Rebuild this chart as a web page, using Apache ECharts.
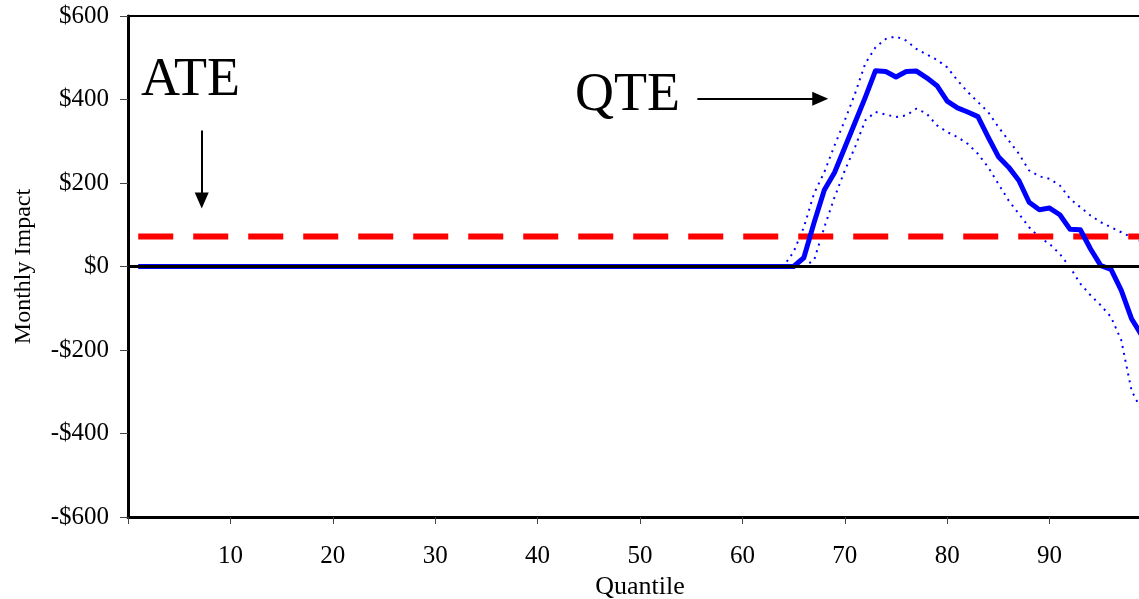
<!DOCTYPE html>
<html>
<head>
<meta charset="utf-8">
<script src="https://cdn.jsdelivr.net/npm/echarts@6/dist/echarts.min.js"></script>
<style>
  html, body { margin: 0; padding: 0; background: #fff; overflow: hidden; }
  #chart { width: 1139px; height: 599px; }
</style>
</head>
<body>
<div id="chart"></div>
<script>
// quantiles 1..100
var quantiles = [];
for (var q = 1; q <= 100; q++) quantiles.push(q);

// QTE point estimate (monthly impact, $)
var qte = [
  0, 0, 0, 0, 0, 0, 0, 0, 0, 0,
  0, 0, 0, 0, 0, 0, 0, 0, 0, 0,
  0, 0, 0, 0, 0, 0, 0, 0, 0, 0,
  0, 0, 0, 0, 0, 0, 0, 0, 0, 0,
  0, 0, 0, 0, 0, 0, 0, 0, 0, 0,
  0, 0, 0, 0, 0, 0, 0, 0, 0, 0,
  0, 0, 0, 0, 0, 21, 105, 183, 225, 285,
  345, 405, 469, 467, 454, 467, 468, 452, 433, 396,
  380, 370, 359, 310, 263, 238, 206, 154, 136, 140,
  124, 89, 88, 42, 2, -7, -57, -125, -165, -230
];
// upper confidence band
var qteUpper = [
  0, 0, 0, 0, 0, 0, 0, 0, 0, 0,
  0, 0, 0, 0, 0, 0, 0, 0, 0, 0,
  0, 0, 0, 0, 0, 0, 0, 0, 0, 0,
  0, 0, 0, 0, 0, 0, 0, 0, 0, 0,
  0, 0, 0, 0, 0, 0, 0, 0, 0, 0,
  0, 0, 0, 0, 0, 0, 0, 0, 0, 0,
  0, 0, 0, 0, 35, 94, 175, 226, 290, 350,
  414, 486, 525, 545, 551, 541, 521, 508, 495, 477,
  446, 418, 394, 370, 334, 302, 270, 230, 216, 210,
  194, 162, 142, 122, 106, 94, 82, 70, 60, 50
];
// lower confidence band
var qteLower = [
  0, 0, 0, 0, 0, 0, 0, 0, 0, 0,
  0, 0, 0, 0, 0, 0, 0, 0, 0, 0,
  0, 0, 0, 0, 0, 0, 0, 0, 0, 0,
  0, 0, 0, 0, 0, 0, 0, 0, 0, 0,
  0, 0, 0, 0, 0, 0, 0, 0, 0, 0,
  0, 0, 0, 0, 0, 0, 0, 0, 0, 0,
  0, 0, 0, 0, 0, 0, 15, 94, 166, 230,
  286, 350, 370, 364, 358, 362, 378, 366, 338, 322,
  310, 294, 270, 238, 198, 158, 126, 94, 70, 54,
  30, -2, -41, -69, -93, -121, -177, -297, -345, -420
];
// average treatment effect
var ate = 72;

var yTicks = [-600, -400, -200, 0, 200, 400, 600];
var xTicks = [10, 20, 30, 40, 50, 60, 70, 80, 90];

var font = '"Liberation Serif", "Times New Roman", serif';

function pairs(arr) {
  return quantiles.map(function (q, i) { return [q, arr[i]]; });
}

var myChart = echarts.init(document.getElementById('chart'));

var option = {
  animation: false,
  grid: {
    left: 128, top: 16, bottom: 82, right: -13,
    containLabel: false, outerBoundsMode: 'none',
    show: true, borderColor: '#000', borderWidth: 2, backgroundColor: '#fff'
  },
  xAxis: {
    type: 'value', min: 0, max: 100, interval: 10,
    name: 'Quantile', nameLocation: 'middle', nameGap: 54,
    nameTextStyle: { fontFamily: font, fontSize: 26, color: '#000' },
    axisLine: { onZero: false, lineStyle: { color: '#000', width: 3 } },
    axisTick: { length: 7, lineStyle: { color: '#444', width: 1 } },
    axisLabel: {
      fontFamily: font, fontSize: 25, color: '#000', margin: 27,
      formatter: function (v) { return xTicks.indexOf(v) >= 0 ? String(v) : ''; }
    },
    splitLine: { show: false }
  },
  yAxis: {
    type: 'value', min: -600, max: 600, interval: 200,
    name: 'Monthly Impact', nameLocation: 'middle', nameGap: 92, nameRotate: 90,
    nameTextStyle: { fontFamily: font, fontSize: 24, color: '#000' },
    axisLine: { show: true, lineStyle: { color: '#000', width: 3 } },
    axisTick: { show: true, inside: false, length: 8, lineStyle: { color: '#444', width: 1 } },
    axisLabel: {
      fontFamily: font, fontSize: 25, color: '#000', margin: 19,
      formatter: function (v) {
        if (yTicks.indexOf(v) < 0) return '';
        return v < 0 ? '-$' + Math.abs(v) : '$' + v;
      }
    },
    splitLine: { show: false }
  },
  series: [
    {
      name: 'upper', type: 'line', data: pairs(qteUpper), symbol: 'none', z: 3,
      lineStyle: { color: '#0000ff', width: 2, type: [2, 5], cap: 'butt' }
    },
    {
      name: 'lower', type: 'line', data: pairs(qteLower), symbol: 'none', z: 3,
      lineStyle: { color: '#0000ff', width: 2, type: [2, 5], cap: 'butt' }
    },
    {
      name: 'ATE', type: 'line', data: pairs(quantiles.map(function () { return ate; })),
      symbol: 'none', z: 4,
      lineStyle: { color: '#ff0000', width: 6, type: [35, 20], cap: 'butt' }
    },
    {
      name: 'QTE', type: 'line', data: pairs(qte), symbol: 'none', z: 5,
      lineStyle: { color: '#0000ff', width: 5, join: 'round' }
    },
    {
      // zero line drawn on top of the flat part
      name: 'zero', type: 'line', data: [[0, 0], [100, 0]], symbol: 'none', z: 7,
      silent: true,
      lineStyle: { color: '#000', width: 3, type: 'solid' }
    },
    {
      name: 'arrows', type: 'line', data: [], z: 8,
      markLine: {
        silent: true, animation: false,
        label: { show: false },
        symbol: ['none', 'triangle'],
        symbolSize: [14, 16],
        lineStyle: { color: '#000', width: 2, type: 'solid' },
        data: [
          [{ coord: [7.2, 326] }, { coord: [7.2, 158] }],
          [{ coord: [55.6, 402] }, { coord: [67.6, 402] }]
        ]
      }
    }
  ],
  graphic: [
    {
      type: 'text', left: 141, top: 54, z: 10,
      style: { text: 'ATE', font: '54px ' + font, fill: '#000' }
    },
    {
      type: 'text', left: 575, top: 69, z: 10,
      style: { text: 'QTE', font: '54px ' + font, fill: '#000' }
    }
  ]
};

myChart.setOption(option);
</script>
</body>
</html>
